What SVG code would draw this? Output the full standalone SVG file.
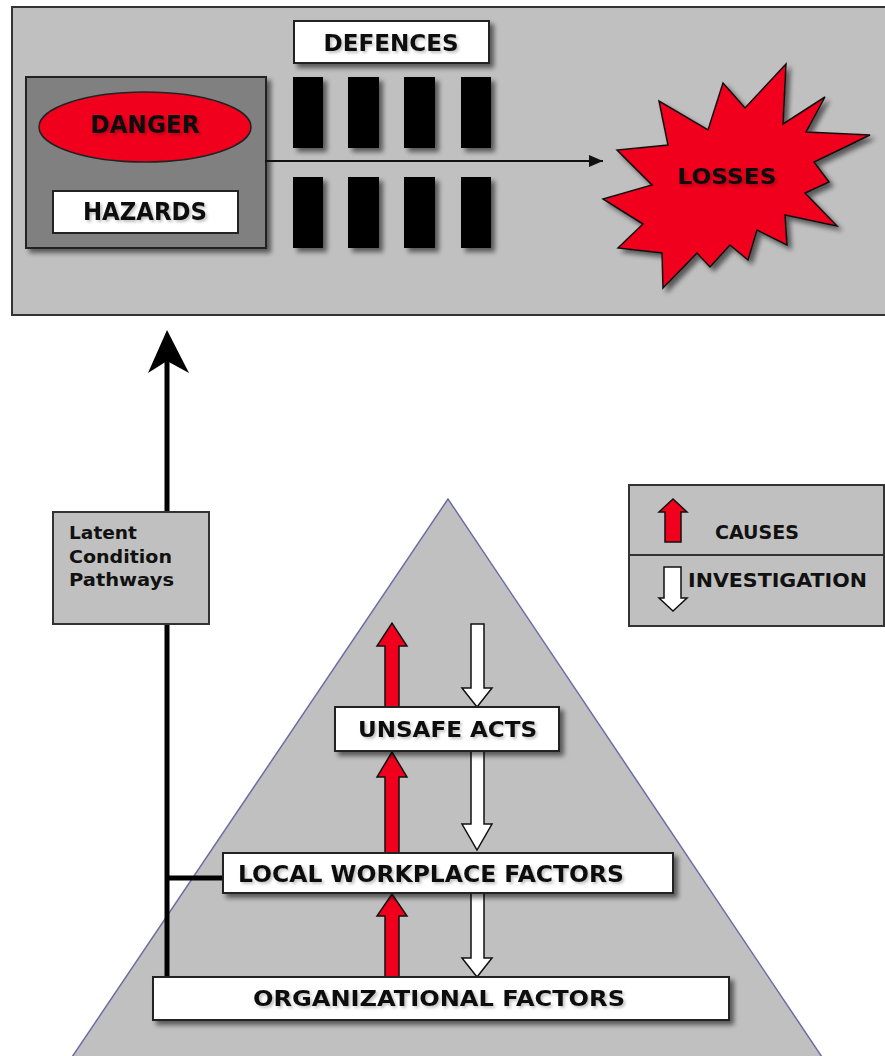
<svg xmlns="http://www.w3.org/2000/svg" width="885" height="1056" viewBox="0 0 885 1056">
<defs>
<style>
.t{font-family:"DejaVu Sans","Verdana",sans-serif;font-weight:bold;fill:#111;text-anchor:middle}
.tl{font-family:"DejaVu Sans","Verdana",sans-serif;font-weight:bold;fill:#111;font-size:18px}
.panel{fill:#c0c0c0;stroke:#333;stroke-width:2}
.wbox{fill:#fff;stroke:#222;stroke-width:2}
.bar{fill:#000}
.red{fill:#f0001c;stroke:#111;stroke-width:1.5}
.wht{fill:#fff;stroke:#111;stroke-width:1.5}
.line{stroke:#000;stroke-width:5;fill:none}
</style>
<filter id="sh" x="-20%" y="-20%" width="150%" height="160%">
<feGaussianBlur in="SourceAlpha" stdDeviation="2.5"/>
<feOffset dx="4" dy="4" result="o"/>
<feComponentTransfer><feFuncA type="linear" slope="0.55"/></feComponentTransfer>
<feMerge><feMergeNode/><feMergeNode in="SourceGraphic"/></feMerge>
</filter>
<filter id="tsh" x="-10%" y="-30%" width="130%" height="180%">
<feGaussianBlur in="SourceAlpha" stdDeviation="1.6"/>
<feOffset dx="2" dy="2"/>
<feComponentTransfer><feFuncA type="linear" slope="0.25"/></feComponentTransfer>
<feMerge><feMergeNode/><feMergeNode in="SourceGraphic"/></feMerge>
</filter>
<marker id="ah" viewBox="0 0 14 12" refX="14" refY="6" markerWidth="14" markerHeight="12" markerUnits="userSpaceOnUse" orient="auto">
<path d="M0,0 L14,6 L0,12 Z" fill="#111"/>
</marker>
</defs>

<g id="top-panel">
<rect class="panel" x="12" y="7" width="885" height="308"/>
</g>

<g id="danger-hazards">
<rect x="26" y="77" width="240" height="171" fill="#808080" stroke="#222" stroke-width="2" filter="url(#sh)"/>
<g id="danger">
<ellipse cx="145" cy="127" rx="106" ry="35" fill="#f0001c" stroke="#222" stroke-width="1.5"/>
<text class="t" x="145" y="133" font-size="24" textLength="109" lengthAdjust="spacingAndGlyphs" filter="url(#tsh)">DANGER</text>
</g>
<g id="hazards">
<rect class="wbox" x="53" y="191" width="185" height="42"/>
<text class="t" x="145" y="220" font-size="24" textLength="124" lengthAdjust="spacingAndGlyphs" filter="url(#tsh)">HAZARDS</text>
</g>
</g>

<g id="defences">
<rect class="wbox" x="294" y="21" width="195" height="42" filter="url(#sh)"/>
<text class="t" x="391" y="51" font-size="23" textLength="135" lengthAdjust="spacingAndGlyphs" filter="url(#tsh)">DEFENCES</text>
<g filter="url(#sh)">
<rect class="bar" x="293" y="77" width="30" height="71"/>
<rect class="bar" x="348" y="77" width="31" height="71"/>
<rect class="bar" x="404" y="77" width="31" height="71"/>
<rect class="bar" x="461" y="77" width="30" height="71"/>
<rect class="bar" x="293" y="177" width="30" height="71"/>
<rect class="bar" x="348" y="177" width="31" height="71"/>
<rect class="bar" x="404" y="177" width="31" height="71"/>
<rect class="bar" x="461" y="177" width="30" height="71"/>
</g>
</g>

<g id="losses">
<polygon points="786,64 783,124 825,97 806,132 870,135 814,162 829,182 805,193 837,226 785,215 787,245 757,230 748,260 730,245 710,267 697,253 663,288 662,253 618,248 643,224 603,199 652,185 617,150 668,145 659,101 708,130 723,83 745,108" fill="#f0001c" stroke="#111" stroke-width="1.5" stroke-linejoin="miter" filter="url(#sh)"/>
<text class="t" x="727" y="184" font-size="22" textLength="99" lengthAdjust="spacingAndGlyphs" filter="url(#tsh)">LOSSES</text>
</g>

<g id="pyramid">
<polygon points="448,499 70,1060 824,1060" fill="#c0c0c0" stroke="#6c6ca8" stroke-width="1.5"/>
</g>

<g id="connectors">
<line x1="265" y1="161" x2="603" y2="161" stroke="#111" stroke-width="2" marker-end="url(#ah)"/>
<line class="line" x1="167" y1="360" x2="167" y2="977"/>
<path d="M167,330 L189,373 L167,361 L148,373 Z" fill="#000"/>
<line class="line" x1="167" y1="878" x2="224" y2="878"/>
<path class="red" d="M385,708 L385,646 L377,646 L392,623 L407,646 L399,646 L399,708 Z"/>
<path class="red" d="M385,854 L385,777 L377,777 L392,752 L407,777 L399,777 L399,854 Z"/>
<path class="red" d="M385,978 L385,916 L377,916 L392,894 L407,916 L399,916 L399,978 Z"/>
<path class="wht" d="M471,624 L484,624 L484,688 L492,688 L477,707 L462,688 L471,688 Z"/>
<path class="wht" d="M471,751 L484,751 L484,824 L492,824 L477,850 L462,824 L471,824 Z"/>
<path class="wht" d="M471,893 L484,893 L484,958 L492,958 L477,977 L462,958 L471,958 Z"/>
</g>

<g id="latent">
<rect class="panel" x="53" y="512" width="156" height="112"/>
<text class="tl" x="69" y="539" textLength="68" lengthAdjust="spacingAndGlyphs">Latent</text>
<text class="tl" x="69" y="563" textLength="103" lengthAdjust="spacingAndGlyphs">Condition</text>
<text class="tl" x="69" y="586" textLength="105" lengthAdjust="spacingAndGlyphs">Pathways</text>
</g>

<g id="legend">
<rect class="panel" x="629" y="485" width="255" height="141"/>
<line x1="629" y1="555" x2="884" y2="555" stroke="#333" stroke-width="2"/>
<path class="red" d="M665,542 L665,512 L659,512 L673,499 L687,512 L681,512 L681,542 Z"/>
<text class="t" x="757" y="539" font-size="19" textLength="84" lengthAdjust="spacingAndGlyphs">CAUSES</text>
<path class="wht" d="M664,567 L681,567 L681,598 L687,598 L673,611 L659,598 L664,598 Z"/>
<text class="t" x="777.5" y="587" font-size="20" textLength="179" lengthAdjust="spacingAndGlyphs">INVESTIGATION</text>
</g>

<g id="unsafe-acts">
<rect class="wbox" x="335" y="707" width="224" height="44" filter="url(#sh)"/>
<text class="t" x="447.5" y="737" font-size="22" textLength="179" lengthAdjust="spacingAndGlyphs" filter="url(#tsh)">UNSAFE ACTS</text>
</g>

<g id="local-workplace">
<rect class="wbox" x="223" y="853" width="450" height="40" filter="url(#sh)"/>
<text class="t" x="431" y="882" font-size="23" textLength="386" lengthAdjust="spacingAndGlyphs" filter="url(#tsh)">LOCAL WORKPLACE FACTORS</text>
</g>

<g id="organizational">
<rect class="wbox" x="153" y="977" width="576" height="43" filter="url(#sh)"/>
<text class="t" x="439" y="1006" font-size="22" textLength="372" lengthAdjust="spacingAndGlyphs" filter="url(#tsh)">ORGANIZATIONAL FACTORS</text>
</g>
</svg>
